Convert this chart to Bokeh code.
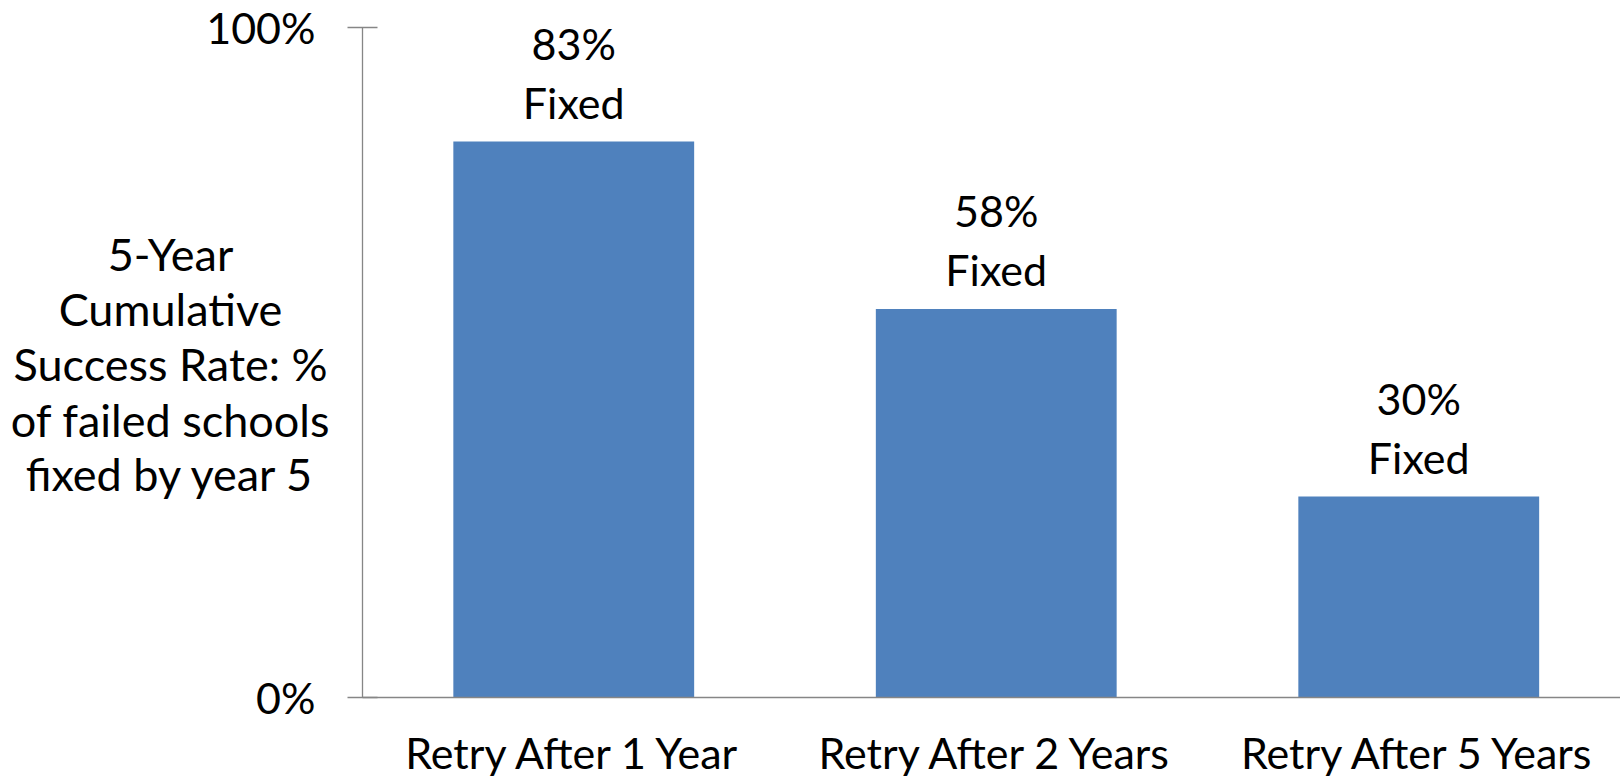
from bokeh.plotting import figure
from bokeh.models import FixedTicker, LinearAxis, Range1d
from bokeh.core.properties import value
from bokeh.embed import file_html
from bokeh.resources import INLINE

categories = ["Retry After 1 Year", "Retry After 2 Years", "Retry After 5 Years"]
fixed_pct = [83, 58, 30]
y_ticks = [0, 100]
y_tick_labels = ["0%", "100%"]
y_title_lines = ["5-Year", "Cumulative", "Success Rate: %", "of failed schools", "fixed by year 5"]

FONT = "Lato"
FS = "43px"
BAR = "#4F81BD"
AXIS = "#868686"

W, H = 1620, 782
AX_X, AX_Y = 362, 697          # pixel position of the axes crossing
PX_X, PX_Y = 422.5, 6.7        # pixels per category / per percent

x_pos = [i + 0.5 for i in range(len(categories))]
x_end = (W - AX_X) / PX_X

p = figure(width=W, height=H, output_backend="svg", toolbar_location=None,
           x_axis_type=None, y_axis_type=None,
           x_range=Range1d(-AX_X / PX_X, x_end),
           y_range=Range1d(-(H - AX_Y) / PX_Y, AX_Y / PX_Y),
           min_border_left=0, min_border_right=0, min_border_top=0, min_border_bottom=0)
p.outline_line_color = None
p.background_fill_color = "white"
p.border_fill_color = "white"

p.vbar(x=x_pos, top=fixed_pct, bottom=0, width=0.57, fill_color=BAR, line_color=None)

p.text(x=x_pos, y=fixed_pct, text=["Fixed"] * len(fixed_pct), y_offset=-39,
       text_align="center", text_baseline="alphabetic",
       text_font=value(FONT), text_font_size=FS, text_color="black")
p.text(x=x_pos, y=fixed_pct, text=[f"{v}%" for v in fixed_pct], y_offset=-98,
       text_align="center", text_baseline="alphabetic",
       text_font=value(FONT), text_font_size=FS, text_color="black")

# y axis
ya = LinearAxis(fixed_location=0, bounds=(0, 100))
ya.ticker = FixedTicker(ticks=y_ticks)
ya.major_label_overrides = {t: l for t, l in zip(y_ticks, y_tick_labels)}
ya.minor_tick_line_color = None
ya.major_tick_in = 15
ya.major_tick_out = 15
ya.major_tick_line_color = AXIS
ya.major_tick_line_width = 1.5
ya.axis_line_color = AXIS
ya.axis_line_width = 1.3
ya.major_label_standoff = 32
ya.major_label_text_font = FONT
ya.major_label_text_font_size = FS
ya.major_label_text_color = "black"
p.add_layout(ya, "left")

# x axis
xa = LinearAxis(fixed_location=0, bounds=(0, x_end))
xa.ticker = FixedTicker(ticks=x_pos)
xa.major_label_overrides = {x: c for x, c in zip(x_pos, categories)}
xa.minor_tick_line_color = None
xa.major_tick_line_color = None
xa.major_tick_in = 0
xa.major_tick_out = 0
xa.axis_line_color = AXIS
xa.axis_line_width = 1.3
xa.major_label_standoff = 29
xa.major_label_text_font = FONT
xa.major_label_text_font_size = FS
xa.major_label_text_color = "black"
p.add_layout(xa, "below")

# y axis title: horizontal, centred lines left of the axis
title_x = (170 - AX_X) / PX_X
baseline_px = [267, 322, 377, 433, 487]
p.text(x=[title_x] * len(y_title_lines),
       y=[(AX_Y - (b - 14)) / PX_Y for b in baseline_px],
       text=y_title_lines, text_align="center", text_baseline="alphabetic",
       text_font=value(FONT), text_font_size="45px", text_color="black")

open("out.html", "w").write(file_html(p, INLINE))
